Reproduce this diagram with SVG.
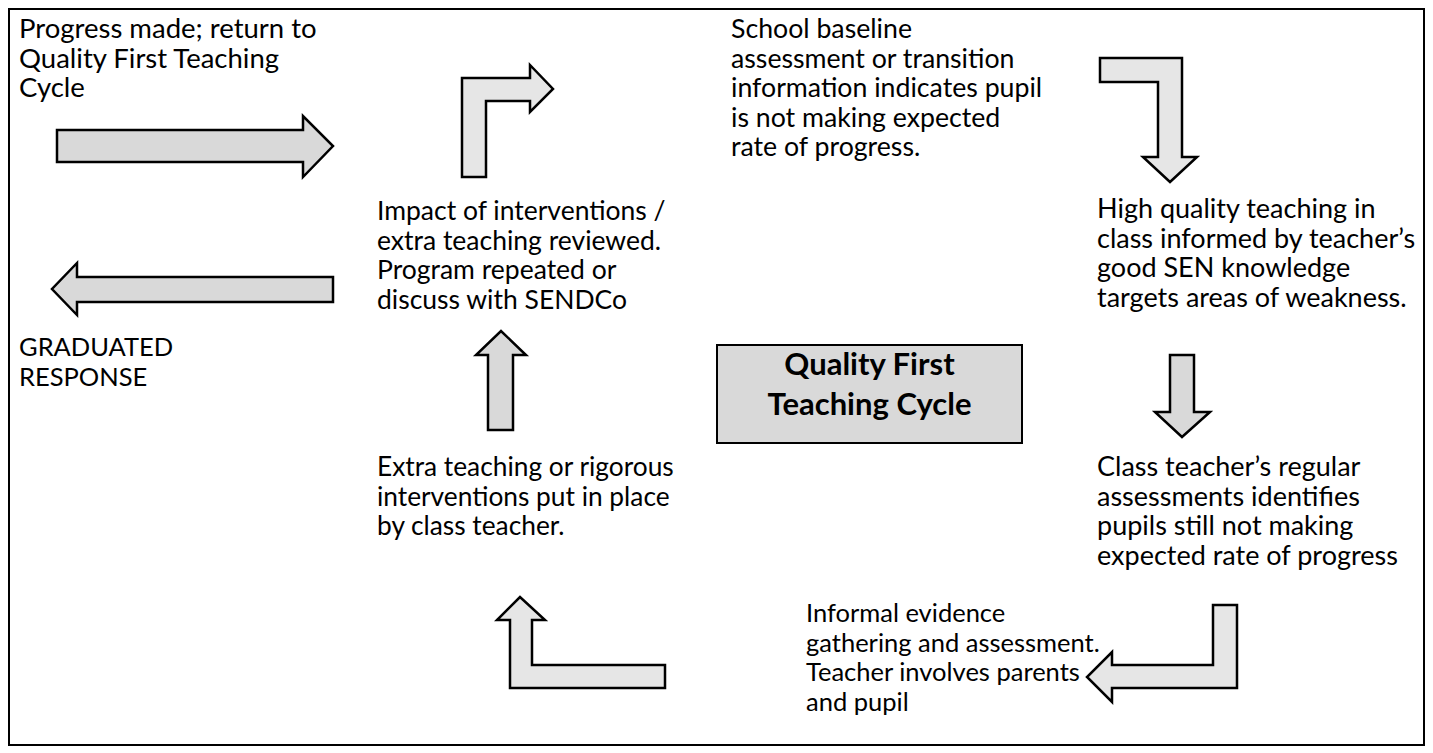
<svg xmlns="http://www.w3.org/2000/svg" width="1433" height="753" viewBox="0 0 1433 753">
<style>
.t{font-family:Lato,"Liberation Sans",sans-serif;font-size:27px;fill:#000}
.b{font-family:Lato,"Liberation Sans",sans-serif;font-size:31px;font-weight:bold;fill:#000;text-anchor:middle}
.as{fill:#d9d9d9;stroke:#000;stroke-width:2.5;stroke-linejoin:miter}
.ab{fill:#e6e6e6;stroke:#000;stroke-width:2.5;stroke-linejoin:miter}
</style>
<rect x="9" y="9" width="1415" height="736" fill="#fff" stroke="#000" stroke-width="2"/>
<g id="connectors">
<path class="as" d="M57,130 H303 V116 L333,146 L303,177 V162 H57 Z"/>
<path class="as" d="M333,277 H77 V263 L52,289 L77,315 V302 H333 Z"/>
<path class="ab" d="M462,177 V78 H530 V65 L553,89 L530,112 V101 H486 V177 Z"/>
<path class="ab" d="M1100,58 H1182 V157 H1197 L1170,182 L1143,157 H1158 V82 H1100 Z"/>
<path class="as" d="M1170,355 H1194 V412 H1210 L1182,437 L1155,412 H1170 Z"/>
<path class="ab" d="M1213,605 H1237 V688 H1112 V702 L1087,677 L1112,652 V665 H1213 Z"/>
<path class="ab" d="M665,665 H532 V620 H545 L520,597 L497,620 H510 V688 H665 Z"/>
<path class="as" d="M488,430 V355 H476 L501,331 L526,355 H513 V430 Z"/>
</g>
<g id="n-progress"><text class="t" style="font-size:27.5px" y="38"><tspan x="19">Progress made; return to</tspan><tspan x="19" dy="29.5">Quality First Teaching</tspan><tspan x="19" dy="29.5">Cycle</tspan></text></g>
<g id="n-graduated"><text class="t" style="font-size:25.5px" y="356"><tspan x="19">GRADUATED</tspan><tspan x="19" dy="29.5">RESPONSE</tspan></text></g>
<g id="n-impact"><text class="t" style="font-size:26.5px" y="220"><tspan x="377">Impact of interventions /</tspan><tspan x="377" dy="29.5">extra teaching reviewed.</tspan><tspan x="377" dy="29.5">Program repeated or</tspan><tspan x="377" dy="29.5">discuss with SENDCo</tspan></text></g>
<g id="n-school"><text class="t" style="font-size:26.7px" y="38"><tspan x="731">School baseline</tspan><tspan x="731" dy="29.5">assessment or transition</tspan><tspan x="731" dy="29.5">information indicates pupil</tspan><tspan x="731" dy="29.5">is not making expected</tspan><tspan x="731" dy="29.5">rate of progress.</tspan></text></g>
<g id="n-high"><text class="t" y="218"><tspan x="1097">High quality teaching in</tspan><tspan x="1097" dy="29.5">class informed by teacher’s</tspan><tspan x="1097" dy="29.5">good SEN knowledge</tspan><tspan x="1097" dy="29.5">targets areas of weakness.</tspan></text></g>
<g id="n-class"><text class="t" y="476"><tspan x="1097">Class teacher’s regular</tspan><tspan x="1097" dy="29.5">assessments identifies</tspan><tspan x="1097" dy="29.5">pupils still not making</tspan><tspan x="1097" dy="29.5">expected rate of progress</tspan></text></g>
<g id="n-informal"><text class="t" style="font-size:25.5px" y="622"><tspan x="806">Informal evidence</tspan><tspan x="806" dy="29.5">gathering and assessment.</tspan><tspan x="806" dy="29.5">Teacher involves parents</tspan><tspan x="806" dy="29.5">and pupil</tspan></text></g>
<g id="n-extra"><text class="t" style="font-size:26.3px" y="476"><tspan x="377">Extra teaching or rigorous</tspan><tspan x="377" dy="29.5">interventions put in place</tspan><tspan x="377" dy="29.5">by class teacher.</tspan></text></g>
<g id="n-center"><rect x="717" y="345" width="305" height="98" fill="#d9d9d9" stroke="#000" stroke-width="2"/><text class="b" x="869.5" y="375">Quality First<tspan x="869.5" dy="40">Teaching Cycle</tspan></text></g>
</svg>
